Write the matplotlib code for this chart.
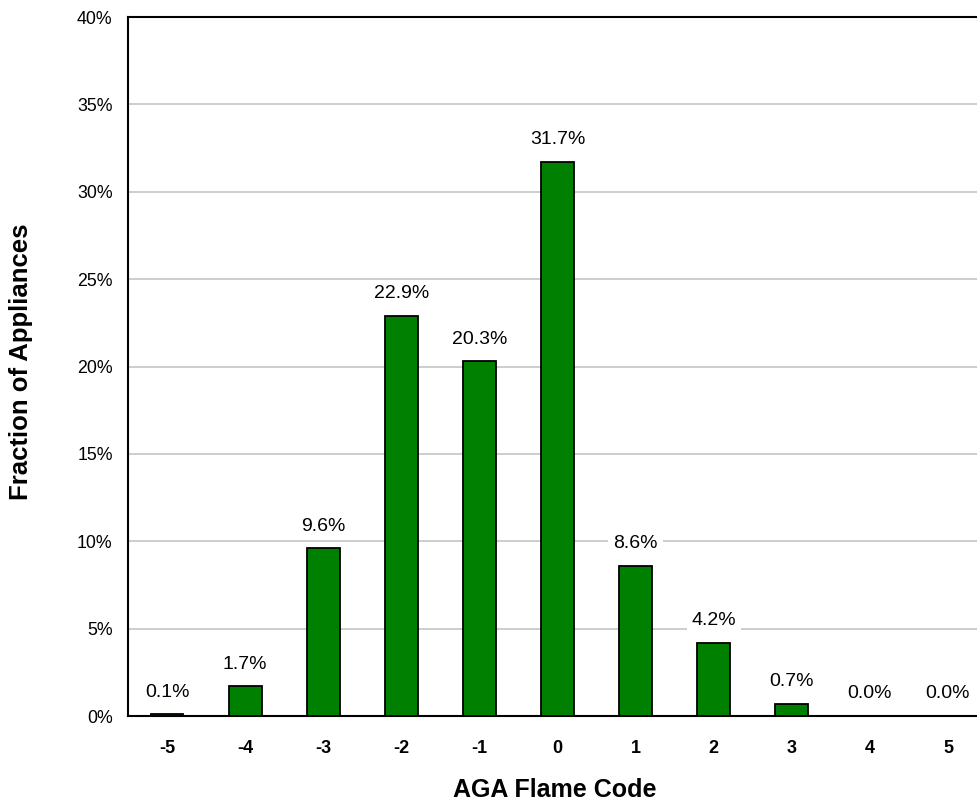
import numpy as np
import matplotlib.pyplot as plt
from matplotlib.ticker import FuncFormatter

# flame code distribution (percent of appliances)
codes = [-5, -4, -3, -2, -1, 0, 1, 2, 3, 4, 5]
fraction = [0.1, 1.7, 9.6, 22.9, 20.3, 31.7, 8.6, 4.2, 0.7, 0.0, 0.0]

plt.rcParams['font.family'] = ['Liberation Sans', 'DejaVu Sans']

fig = plt.figure(figsize=(9.78, 8.05), dpi=100)
W, H = 978, 805
ax = fig.add_axes([128 / W, 89 / H, (987 - 128) / W, (716 - 17) / H])

x = np.arange(len(codes))
ax.bar(x, fraction, width=0.42, color='#008000', edgecolor='black', linewidth=1.3, zorder=3)

for xi, v in zip(x, fraction):
    ax.annotate('%.1f%%' % v, (xi, v), xytext=(0, 16), textcoords='offset points',
                ha='center', va='center', fontsize=14,
                bbox=dict(boxstyle='square,pad=0.25', fc='white', ec='none'), zorder=4)

ax.set_xlim(-0.5, len(codes) - 0.5)
ax.set_ylim(0, 40)
ax.set_yticks(np.arange(0, 41, 5))
ax.yaxis.set_major_formatter(FuncFormatter(lambda v, p: '%d%%' % v))
ax.set_xticks(x)
ax.set_xticklabels([str(c) for c in codes], fontweight='bold')
ax.tick_params(axis='both', length=0)
ax.tick_params(axis='x', pad=17.5, labelsize=13)
ax.tick_params(axis='y', pad=11, labelsize=12.75)

ax.grid(axis='y', color='#c0c0c0', linewidth=1.1, zorder=0)
ax.set_axisbelow(True)
for s in ['left', 'bottom', 'top']:
    ax.spines[s].set_linewidth(1.5)
ax.spines['right'].set_visible(False)

# axis titles placed in figure pixels
fig.text(555 / W, 1 - 790 / H, 'AGA Flame Code', fontsize=18, fontweight='bold',
         ha='center', va='center')
fig.text(21 / W, 1 - 362 / H, 'Fraction of Appliances', fontsize=18.5, fontweight='bold',
         ha='center', va='center', rotation=90)

fig.savefig('out.png', dpi=100)
